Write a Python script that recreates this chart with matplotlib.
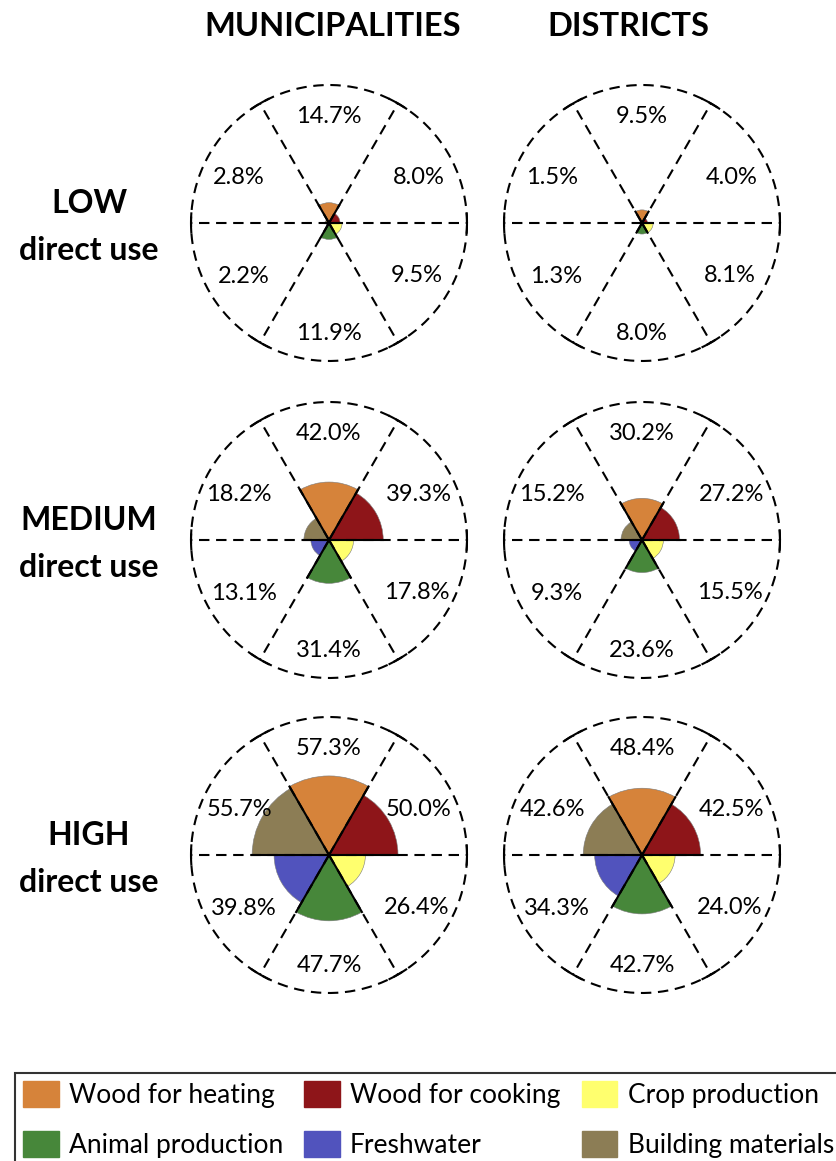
import numpy as np
import matplotlib as mpl
mpl.use("Agg")
import matplotlib.pyplot as plt
from matplotlib.patches import Patch

plt.rcParams["font.family"] = ["Lato", "DejaVu Sans"]

categories = ["Wood for heating", "Wood for cooking", "Crop production",
              "Animal production", "Freshwater", "Building materials"]
colors = ["#D6833A", "#8E1519", "#FFFF6E", "#47873A", "#5153BD", "#8C7D55"]

col_titles = ["MUNICIPALITIES", "DISTRICTS"]
row_titles = ["LOW\ndirect use", "MEDIUM\ndirect use", "HIGH\ndirect use"]

muni_low = [14.7, 8.0, 9.5, 11.9, 2.2, 2.8]
dist_low = [9.5, 4.0, 8.1, 8.0, 1.3, 1.5]
muni_med = [42.0, 39.3, 17.8, 31.4, 13.1, 18.2]
dist_med = [30.2, 27.2, 15.5, 23.6, 9.3, 15.2]
muni_high = [57.3, 50.0, 26.4, 47.7, 39.8, 55.7]
dist_high = [48.4, 42.5, 24.0, 42.7, 34.3, 42.6]

grid = [[muni_low, dist_low], [muni_med, dist_med], [muni_high, dist_high]]

# sector layout (degrees, counter-clockwise from east)
sector_deg = np.array([90, 30, -30, -90, 210, 150])
label_deg = np.array([90, 27, -31, -90, 212, 153])
label_r = np.array([77, 73, 74, 80, 73, 73])
spokes = np.arange(0, 360, 60)

W, H = 837, 1161
fig = plt.figure(figsize=(W / 100, H / 100), dpi=100)

col_x = [329, 642]
title_x = [333, 628]
row_y = [223, 540, 855]
R = 138

dash = (0, (5, 3.2))
for i, cy in enumerate(row_y):
    for j, cx in enumerate(col_x):
        vals = np.array(grid[i][j])
        ax = fig.add_axes([(cx - R) / W, 1 - (cy + R) / H, 2 * R / W, 2 * R / H],
                          projection="polar")
        ax.set_ylim(0, 100)
        ax.axis("off")
        ax.bar(np.deg2rad(sector_deg), vals, width=np.deg2rad(60),
               color=colors, edgecolor="#7a7a7a", linewidth=0.4, zorder=2)
        th = np.linspace(0, 2 * np.pi, 400)
        ax.plot(th, np.full_like(th, 100), color="black", lw=1.5,
                linestyle=dash, clip_on=False, zorder=3)
        for a in spokes:
            # neighbouring sectors of this spoke
            d = (sector_deg - a + 540) % 360 - 180
            near = vals[np.abs(np.abs(d) - 30) < 1]
            t = np.deg2rad(a)
            ax.plot([t, t], [0, 100], color="black", lw=1.5, linestyle=dash,
                    clip_on=False, zorder=3)
            ax.plot([t, t], [0, near.max()], color="black", lw=1.5, zorder=3)
            tt = np.deg2rad(np.linspace(a - 4, a + 4, 9))
            ax.plot(tt, np.full_like(tt, 100), color="black", lw=1.5,
                    clip_on=False, zorder=3)
        for v, ld, lr in zip(vals, label_deg, label_r):
            ax.text(np.deg2rad(ld), lr, f"{v:.1f}%", ha="center", va="center",
                    fontsize=17, zorder=4)

for j, tx in enumerate(title_x):
    fig.text(tx / W, 1 - 27 / H, col_titles[j],
             ha="center", va="center", fontsize=23.5, fontweight="bold")
for i, cy in enumerate(row_y):
    fig.text(89 / W, 1 - (cy + 4) / H, row_titles[i], ha="center", va="center",
             fontsize=23, fontweight="bold", linespacing=1.75)

order = [0, 3, 1, 4, 2, 5]
handles = [Patch(facecolor=colors[k], edgecolor=colors[k]) for k in order]
labels = [categories[k] for k in order]
leg = fig.legend(handles, labels, ncol=3, loc="upper left",
                 bbox_to_anchor=(15 / W, 1 - 1073 / H), fontsize=19,
                 frameon=True, fancybox=False, edgecolor="black",
                 handlelength=1.36, handleheight=1.17, handletextpad=0.38,
                 columnspacing=0.8, labelspacing=0.85, borderpad=0.3,
                 borderaxespad=0)
leg.get_frame().set_linewidth(1.5)

fig.savefig("out.png", dpi=100)
